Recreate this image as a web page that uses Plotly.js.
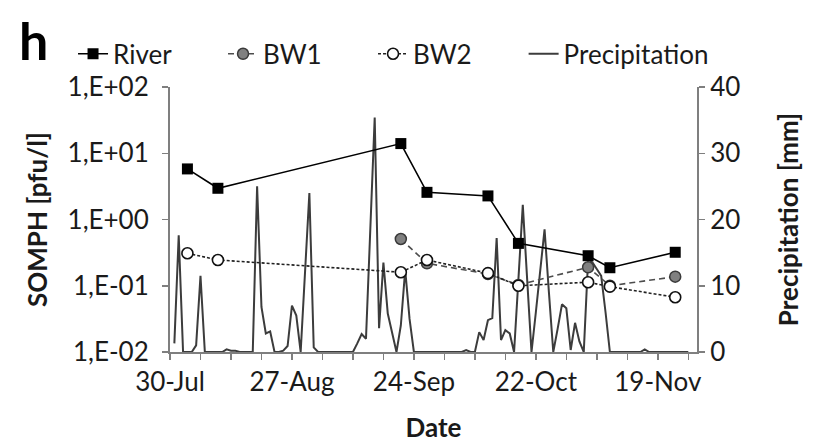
<!DOCTYPE html>
<html>
<head>
<meta charset="utf-8">
<script src="https://cdn.plot.ly/plotly-3.0.1.min.js"></script>
<style>html,body{margin:0;padding:0;background:#fff;}#chart{width:814px;height:443px;}</style>
</head>
<body>
<div id="chart"></div>
<script>
// Sampling dates and concentrations (SOMPH, pfu/l)
const riverDates = ['2013-08-03','2013-08-10','2013-09-21','2013-09-27','2013-10-11','2013-10-18','2013-11-03','2013-11-08','2013-11-23'];
const riverValues = [5.8, 2.96, 14.0, 2.57, 2.27, 0.436, 0.284, 0.187, 0.32];

const bw1Dates = ['2013-09-21','2013-09-27','2013-10-11','2013-10-18','2013-11-03','2013-11-08','2013-11-23'];
const bw1Values = [0.508, 0.218, 0.15, 0.103, 0.19, 0.10, 0.137];

const bw2Dates = ['2013-08-03','2013-08-10','2013-09-21','2013-09-27','2013-10-11','2013-10-18','2013-11-03','2013-11-08','2013-11-23'];
const bw2Values = [0.309, 0.245, 0.16, 0.245, 0.155, 0.10, 0.113, 0.097, 0.067];

// Daily precipitation (mm), starting 31-Jul
const precipStart = '2013-07-31';
const precipValues = [
  1.3, 17.6, 0, 0, 0, 1.0, 11.5, 0, 0, 0,
  0, 0, 0.4, 0.2, 0.2, 0, 0, 0, 0, 25,
  6.8, 2.8, 3.1, 0, 0, 0.2, 0.9, 7.0, 5.5, 0,
  12, 24, 0.7, 0, 0, 0, 0, 0, 0, 0,
  0, 0, 1.3, 2.7, 2.0, 18, 35.4, 3.6, 13.5, 5.8,
  3, 0, 4, 12.4, 5, 0, 0, 0, 0, 0,
  0, 0, 0, 0, 0, 0, 0, 0.3, 0, 0,
  3.0, 1.8, 4.8, 5.1, 17.2, 1.8, 3.3, 2.8, 0, 11,
  22.2, 11, 0, 6, 12, 18.5, 9, 0, 3.5, 7.2,
  6.6, 0.3, 4.4, 1.6, 0, 14, 13.5, 12.5, 11.5, 6,
  0, 0, 0, 0, 0, 0, 0, 0, 0.4, 0,
  0, 0, 0, 0, 0, 0, 0, 0, 0
];

// Axis labels
const leftTickVals = [0.01, 0.1, 1, 10, 100];
const leftTickText = ['1,E-02', '1,E-01', '1,E+00', '1,E+01', '1,E+02'];
const xRange = ['2013-07-30', '2013-11-28'];

// build daily dates for precipitation
const precipDates = [];
(function(){
  const d0 = new Date(precipStart + 'T00:00:00Z');
  for (let i = 0; i < precipValues.length; i++) {
    const d = new Date(d0.getTime() + i * 86400000);
    precipDates.push(d.toISOString().slice(0,10));
  }
})();

const FONT = 'Lato, "Open Sans", sans-serif';
const TXT = '#1a1a1a';
const AX = '#7f7f7f';

const traces = [
  {x: riverDates, y: riverValues, name: 'River', yaxis: 'y2', type: 'scatter', mode: 'lines+markers', legend: 'legend',
   line: {color: '#000', width: 1.6}, marker: {symbol: 'square', size: 11, color: '#000'}},
  {x: bw1Dates, y: bw1Values, name: 'BW1', yaxis: 'y2', type: 'scatter', mode: 'lines+markers', legend: 'legend',
   line: {color: '#4d4d4d', width: 1.6, dash: '6px,4px'},
   marker: {symbol: 'circle', size: 11, color: '#808080', line: {color: '#3a3a3a', width: 1.5}}},
  {x: bw2Dates, y: bw2Values, name: 'BW2', yaxis: 'y2', type: 'scatter', mode: 'lines+markers', legend: 'legend',
   line: {color: '#222', width: 1.6, dash: '3px,2px'},
   marker: {symbol: 'circle', size: 11, color: '#fff', line: {color: '#111', width: 1.6}}},
  {x: precipDates, y: precipValues, name: 'Precipitation', yaxis: 'y', type: 'scatter', mode: 'lines', legend: 'legend2',
   line: {color: '#3c3c3c', width: 2}}
];

const legendFont = {family: FONT, size: 26, color: TXT};

const layout = {
  width: 814, height: 443,
  margin: {l: 170, r: 117, t: 87, b: 91, pad: 0},
  paper_bgcolor: '#fff', plot_bgcolor: '#fff',
  font: {family: FONT, size: 26, color: TXT},
  showlegend: true,
  legend: {orientation: 'h', x: -0.184, y: 1.125, xanchor: 'left', yanchor: 'middle',
           font: legendFont, bgcolor: 'rgba(0,0,0,0)', entrywidth: 105},
  legend2: {orientation: 'h', x: 0.671, y: 1.125, xanchor: 'left', yanchor: 'middle',
           font: legendFont, bgcolor: 'rgba(0,0,0,0)'},
  xaxis: {type: 'date', range: xRange, tick0: '2013-07-30', dtick: 7 * 86400000, tickformat: '%d-%b',
          ticklabelstep: 4, ticks: 'outside', ticklen: 6, tickwidth: 1.5, tickcolor: AX,
          showline: true, linecolor: AX, linewidth: 2, showgrid: false, zeroline: false,
          tickfont: {family: FONT, size: 26, color: TXT},
          title: {text: '<b>Date</b>', font: {family: FONT, size: 26, color: TXT}, standoff: 24}},
  yaxis: {side: 'right', range: [0, 40], dtick: 10, ticks: 'outside', ticklen: 6, tickwidth: 1.5, tickcolor: AX,
          showline: true, linecolor: AX, linewidth: 2, showgrid: false, zeroline: false,
          tickfont: {family: FONT, size: 26, color: TXT},
          title: {text: '<b>Precipitation [mm]</b>', font: {family: FONT, size: 26, color: TXT}, standoff: 40}},
  yaxis2: {overlaying: 'y', side: 'left', type: 'log', range: [-2, 2], tickvals: leftTickVals, ticktext: leftTickText,
           ticks: 'outside', ticklen: 6, tickwidth: 1.5, tickcolor: AX, ticklabelstandoff: 8,
           showline: true, linecolor: AX, linewidth: 2, showgrid: false, zeroline: false,
           tickfont: {family: FONT, size: 26, color: TXT},
           title: {text: '<b>SOMPH [pfu/l]</b>', font: {family: FONT, size: 26, color: TXT}, standoff: 12}},
  annotations: [
    {text: '<b>h</b>', xref: 'paper', yref: 'paper', x: -0.29, y: 1.30, xanchor: 'left', yanchor: 'top',
     showarrow: false, font: {family: FONT, size: 52, color: '#000'}}
  ]
};

Plotly.newPlot('chart', traces, layout, {displayModeBar: false, staticPlot: true});
</script>
</body>
</html>
